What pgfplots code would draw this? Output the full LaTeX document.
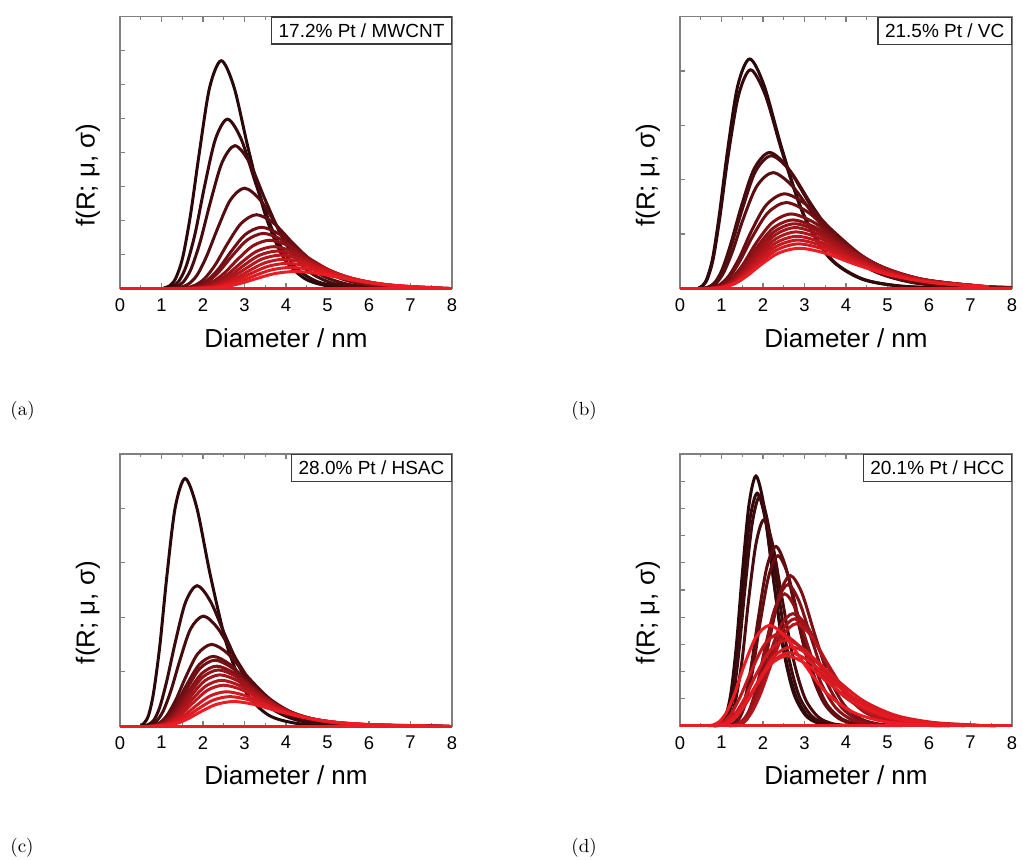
\documentclass[border=0pt]{standalone}
\usepackage{pgfplots}
\pgfplotsset{compat=1.18}
\usepackage{fontspec}
\setsansfont{Liberation Sans}

\definecolor{dk}{RGB}{42,8,10}
\definecolor{rd}{RGB}{236,28,36}
\definecolor{framegray}{RGB}{128,128,128}
\definecolor{boxgray}{RGB}{60,60,60}

\pgfplotsset{
  panel/.style={
    scale only axis, width=166pt, height=136pt,
    anchor=south west, clip=false,
    xmin=0, xmax=8, ymin=0,
    xtick distance=1, minor x tick num=1,
    ytick distance=1, yticklabels={},
    xtick pos=both, ytick pos=left,
    tick align=inside,
    major tick length=2.6pt, minor tick length=1.6pt,
    axis line style={draw=framegray, line width=0.6pt},
    tick style={framegray, line width=0.6pt},
    /pgf/number format/assume math mode=true,
    ticklabel style={font=\sffamily\fontsize{9.2}{11}\selectfont},
    xticklabel style={yshift=-1.6pt},
    label style={font=\sffamily\fontsize{13}{15}\selectfont},
    xlabel={Diameter / nm},
    ylabel={f(R; μ, σ)},
    xlabel style={at={(axis description cs:0.5,-0.182)}, anchor=center},
    ylabel style={at={(axis description cs:-0.0964,0.417)}, anchor=center},
    every axis plot/.append style={line width=1.5pt, smooth},
  },
  cv/.style={draw=rd!#1!dk},
}
\tikzset{
  tag/.style={draw=boxgray, line width=0.6pt, fill=white, anchor=north east,
    inner xsep=3.5pt, inner ysep=3.2pt, text height=6.9pt, text depth=0.2pt,
    font=\sffamily\fontsize{9.5}{11}\selectfont},
  letter/.style={anchor=west, inner sep=0pt, font=\rmfamily\fontsize{9.5}{11}\selectfont},
}

\begin{document}
\begin{tikzpicture}
\useasboundingbox (0pt,0pt) rectangle (511.5pt,-430pt);

% (a) 17.2% Pt / MWCNT
\begin{axis}[panel, at={(60pt,-144.25pt)}, ymax=8]
\addplot[cv=0] coordinates {(1.05,0.015)(1.19,0.074)(1.34,0.294)(1.51,0.907)(1.70,2.175)(1.92,4.064)(2.16,5.913)(2.44,6.70)(2.75,5.913)(3.10,4.064)(3.50,2.175)(3.94,0.907)(4.45,0.294)(5.01,0.074)(5.65,0.015)};
\addplot[cv=7] coordinates {(1.12,0.011)(1.26,0.055)(1.42,0.219)(1.60,0.674)(1.81,1.617)(2.04,3.020)(2.30,4.395)(2.59,4.98)(2.92,4.395)(3.29,3.020)(3.71,1.617)(4.19,0.674)(4.72,0.219)(5.32,0.055)(6.00,0.011)};
\addplot[cv=14] coordinates {(1.20,0.009)(1.35,0.047)(1.52,0.184)(1.71,0.568)(1.93,1.364)(2.18,2.547)(2.46,3.707)(2.77,4.20)(3.12,3.707)(3.52,2.547)(3.97,1.364)(4.48,0.568)(5.05,0.184)(5.69,0.047)(6.42,0.009)};
\addplot[cv=21] coordinates {(1.30,0.006)(1.46,0.033)(1.65,0.130)(1.86,0.399)(2.09,0.958)(2.36,1.789)(2.66,2.603)(3.00,2.95)(3.38,2.603)(3.81,1.789)(4.30,0.958)(4.85,0.399)(5.47,0.130)(6.16,0.033)(6.95,0.006)};
\addplot[cv=29] coordinates {(1.42,0.005)(1.60,0.024)(1.81,0.095)(2.04,0.294)(2.30,0.705)(2.59,1.316)(2.92,1.915)(3.29,2.17)(3.71,1.915)(4.18,1.316)(4.72,0.705)(5.32,0.294)(6.00,0.095)(6.76,0.024)(7.62,0.005)};
\addplot[cv=36] coordinates {(1.47,0.004)(1.66,0.020)(1.87,0.079)(2.11,0.244)(2.38,0.584)(2.68,1.092)(3.02,1.589)(3.41,1.80)(3.85,1.589)(4.34,1.092)(4.89,0.584)(5.51,0.244)(6.21,0.079)(7.01,0.020)(7.90,0.004)};
\addplot[cv=43] coordinates {(1.49,0.004)(1.68,0.018)(1.90,0.071)(2.14,0.219)(2.41,0.526)(2.72,0.983)(3.07,1.430)(3.46,1.62)(3.90,1.430)(4.40,0.983)(4.96,0.526)(5.59,0.219)(6.30,0.071)(7.11,0.018)};
\addplot[cv=50] coordinates {(1.56,0.003)(1.76,0.016)(1.98,0.062)(2.23,0.192)(2.52,0.461)(2.84,0.861)(3.20,1.253)(3.61,1.42)(4.07,1.253)(4.59,0.861)(5.17,0.461)(5.83,0.192)(6.58,0.062)(7.42,0.016)};
\addplot[cv=57] coordinates {(1.60,0.003)(1.80,0.014)(2.03,0.054)(2.29,0.166)(2.58,0.399)(2.91,0.746)(3.28,1.085)(3.70,1.23)(4.17,1.085)(4.70,0.746)(5.30,0.399)(5.98,0.166)(6.74,0.054)(7.60,0.014)};
\addplot[cv=64] coordinates {(1.63,0.002)(1.84,0.012)(2.07,0.048)(2.34,0.149)(2.64,0.357)(2.97,0.667)(3.35,0.971)(3.78,1.10)(4.26,0.971)(4.81,0.667)(5.42,0.357)(6.11,0.149)(6.89,0.048)(7.77,0.012)};
\addplot[cv=71] coordinates {(1.67,0.002)(1.88,0.011)(2.12,0.043)(2.39,0.133)(2.69,0.318)(3.04,0.594)(3.42,0.865)(3.86,0.98)(4.35,0.865)(4.91,0.594)(5.53,0.318)(6.24,0.133)(7.03,0.043)(7.93,0.011)};
\addplot[cv=79] coordinates {(1.71,0.002)(1.92,0.010)(2.17,0.038)(2.44,0.116)(2.76,0.279)(3.11,0.522)(3.50,0.759)(3.95,0.86)(4.45,0.759)(5.02,0.522)(5.66,0.279)(6.38,0.116)(7.20,0.038)};
\addplot[cv=86] coordinates {(1.74,0.002)(1.96,0.008)(2.21,0.032)(2.49,0.100)(2.81,0.240)(3.17,0.449)(3.57,0.653)(4.03,0.74)(4.54,0.653)(5.12,0.449)(5.78,0.240)(6.51,0.100)(7.34,0.032)};
\addplot[cv=93] coordinates {(1.78,0.001)(2.01,0.007)(2.26,0.027)(2.55,0.084)(2.88,0.201)(3.24,0.376)(3.65,0.547)(4.12,0.62)(4.65,0.547)(5.24,0.376)(5.91,0.201)(6.66,0.084)(7.51,0.027)};
\addplot[cv=100] coordinates {(1.82,0.001)(2.05,0.006)(2.32,0.022)(2.61,0.068)(2.94,0.162)(3.32,0.303)(3.74,0.441)(4.22,0.50)(4.76,0.441)(5.36,0.303)(6.05,0.162)(6.82,0.068)(7.69,0.022)};
\addplot[cv=100, sharp plot] coordinates {(0,0)(8,0)};
\node[tag] at (rel axis cs:1,1) {17.2\% Pt / MWCNT};
\end{axis}

% (b) 21.5% Pt / VC
\begin{axis}[panel, at={(340pt,-144.25pt)}, ymax=5]
\addplot[cv=0] coordinates {(0.44,0.009)(0.54,0.047)(0.65,0.185)(0.79,0.571)(0.95,1.370)(1.15,2.559)(1.39,3.724)(1.68,4.22)(2.03,3.724)(2.46,2.559)(2.97,1.370)(3.59,0.571)(4.34,0.185)(5.25,0.047)(6.35,0.009)};
\addplot[cv=5] coordinates {(0.45,0.009)(0.54,0.045)(0.66,0.176)(0.80,0.544)(0.96,1.305)(1.16,2.438)(1.41,3.548)(1.70,4.02)(2.06,3.548)(2.49,2.438)(3.01,1.305)(3.64,0.544)(4.40,0.176)(5.32,0.045)(6.43,0.009)};
\addplot[cv=12] coordinates {(0.57,0.006)(0.69,0.028)(0.84,0.110)(1.01,0.338)(1.22,0.812)(1.48,1.516)(1.79,2.206)(2.16,2.50)(2.61,2.206)(3.16,1.516)(3.82,0.812)(4.62,0.338)(5.59,0.110)(6.75,0.028)};
\addplot[cv=18] coordinates {(0.58,0.005)(0.70,0.027)(0.85,0.107)(1.03,0.330)(1.24,0.792)(1.51,1.480)(1.82,2.153)(2.20,2.44)(2.66,2.153)(3.22,1.480)(3.89,0.792)(4.70,0.330)(5.69,0.107)(6.88,0.027)};
\addplot[cv=24] coordinates {(0.59,0.005)(0.72,0.024)(0.87,0.094)(1.05,0.288)(1.27,0.692)(1.53,1.292)(1.85,1.880)(2.24,2.13)(2.71,1.880)(3.28,1.292)(3.96,0.692)(4.79,0.288)(5.79,0.094)(7.00,0.024)};
\addplot[cv=31] coordinates {(0.67,0.004)(0.81,0.019)(0.97,0.076)(1.18,0.235)(1.43,0.565)(1.72,1.055)(2.08,1.536)(2.52,1.74)(3.05,1.536)(3.69,1.055)(4.46,0.565)(5.39,0.235)(6.52,0.076)(7.88,0.019)};
\addplot[cv=37] coordinates {(0.68,0.003)(0.82,0.018)(0.99,0.069)(1.20,0.214)(1.45,0.513)(1.75,0.958)(2.12,1.394)(2.56,1.58)(3.10,1.394)(3.74,0.958)(4.53,0.513)(5.47,0.214)(6.62,0.069)(8.00,0.018)};
\addplot[cv=43] coordinates {(0.71,0.003)(0.86,0.015)(1.04,0.060)(1.25,0.185)(1.52,0.445)(1.83,0.831)(2.22,1.209)(2.68,1.37)(3.24,1.209)(3.92,0.831)(4.74,0.445)(5.73,0.185)(6.93,0.060)};
\addplot[cv=49] coordinates {(0.72,0.003)(0.87,0.014)(1.05,0.055)(1.27,0.170)(1.54,0.409)(1.86,0.764)(2.25,1.112)(2.72,1.26)(3.29,1.112)(3.98,0.764)(4.81,0.409)(5.82,0.170)(7.03,0.055)};
\addplot[cv=55] coordinates {(0.73,0.003)(0.88,0.013)(1.07,0.052)(1.29,0.161)(1.56,0.386)(1.89,0.722)(2.28,1.050)(2.76,1.19)(3.34,1.050)(4.04,0.722)(4.88,0.386)(5.90,0.161)(7.14,0.052)};
\addplot[cv=61] coordinates {(0.74,0.002)(0.89,0.012)(1.08,0.049)(1.30,0.152)(1.57,0.364)(1.90,0.679)(2.30,0.988)(2.78,1.12)(3.36,0.988)(4.07,0.679)(4.92,0.364)(5.94,0.152)(7.19,0.049)};
\addplot[cv=67] coordinates {(0.74,0.002)(0.90,0.012)(1.08,0.046)(1.31,0.141)(1.58,0.338)(1.92,0.631)(2.32,0.918)(2.80,1.04)(3.39,0.918)(4.09,0.631)(4.95,0.338)(5.99,0.141)(7.24,0.046)};
\addplot[cv=73] coordinates {(0.75,0.002)(0.90,0.011)(1.09,0.042)(1.32,0.130)(1.60,0.312)(1.93,0.582)(2.33,0.847)(2.82,0.96)(3.41,0.847)(4.12,0.582)(4.99,0.312)(6.03,0.130)(7.29,0.042)};
\addplot[cv=80] coordinates {(0.75,0.002)(0.91,0.010)(1.10,0.039)(1.33,0.120)(1.61,0.289)(1.94,0.540)(2.35,0.785)(2.84,0.89)(3.43,0.785)(4.15,0.540)(5.02,0.289)(6.07,0.120)(7.34,0.039)};
\addplot[cv=87] coordinates {(0.76,0.002)(0.92,0.009)(1.11,0.036)(1.34,0.111)(1.62,0.266)(1.96,0.497)(2.37,0.724)(2.86,0.82)(3.46,0.724)(4.18,0.497)(5.06,0.266)(6.12,0.111)(7.40,0.036)};
\addplot[cv=100] coordinates {(0.76,0.002)(0.92,0.008)(1.11,0.032)(1.35,0.100)(1.63,0.240)(1.97,0.449)(2.38,0.653)(2.88,0.74)(3.48,0.653)(4.21,0.449)(5.09,0.240)(6.16,0.100)(7.45,0.032)};
\addplot[cv=100, sharp plot] coordinates {(0,0)(8,0)};
\node[tag] at (rel axis cs:1,1) {21.5\% Pt / VC};
\end{axis}

% (c) 28.0% Pt / HSAC
\begin{axis}[panel, at={(60pt,-363pt)}, ymax=5]
\addplot[cv=0] coordinates {(0.50,0.010)(0.58,0.051)(0.69,0.200)(0.81,0.616)(0.96,1.477)(1.13,2.760)(1.33,4.015)(1.57,4.55)(1.85,4.015)(2.18,2.760)(2.58,1.477)(3.04,0.616)(3.58,0.200)(4.23,0.051)(4.98,0.010)};
\addplot[cv=8] coordinates {(0.59,0.006)(0.69,0.029)(0.82,0.113)(0.96,0.349)(1.13,0.838)(1.34,1.565)(1.58,2.277)(1.86,2.58)(2.19,2.277)(2.59,1.565)(3.05,0.838)(3.60,0.349)(4.24,0.113)(5.01,0.029)(5.90,0.006)};
\addplot[cv=15] coordinates {(0.63,0.004)(0.75,0.022)(0.88,0.089)(1.04,0.273)(1.23,0.656)(1.45,1.225)(1.70,1.783)(2.01,2.02)(2.37,1.783)(2.80,1.225)(3.30,0.656)(3.89,0.273)(4.59,0.089)(5.41,0.022)(6.38,0.004)};
\addplot[cv=23] coordinates {(0.70,0.003)(0.82,0.017)(0.97,0.066)(1.14,0.203)(1.35,0.487)(1.59,0.910)(1.87,1.324)(2.21,1.50)(2.61,1.324)(3.07,0.910)(3.63,0.487)(4.28,0.203)(5.04,0.066)(5.95,0.017)(7.01,0.003)};
\addplot[cv=31] coordinates {(0.71,0.003)(0.84,0.014)(0.99,0.056)(1.16,0.173)(1.37,0.416)(1.62,0.776)(1.91,1.130)(2.25,1.28)(2.65,1.130)(3.13,0.776)(3.69,0.416)(4.35,0.173)(5.13,0.056)(6.06,0.014)(7.14,0.003)};
\addplot[cv=38] coordinates {(0.72,0.003)(0.85,0.013)(1.00,0.053)(1.18,0.164)(1.40,0.393)(1.65,0.734)(1.94,1.068)(2.29,1.21)(2.70,1.068)(3.19,0.734)(3.76,0.393)(4.43,0.164)(5.23,0.053)(6.16,0.013)(7.27,0.003)};
\addplot[cv=46] coordinates {(0.73,0.002)(0.87,0.012)(1.02,0.048)(1.20,0.149)(1.42,0.357)(1.68,0.667)(1.98,0.971)(2.33,1.10)(2.75,0.971)(3.24,0.667)(3.82,0.357)(4.51,0.149)(5.32,0.048)(6.27,0.012)(7.40,0.002)};
\addplot[cv=54] coordinates {(0.75,0.002)(0.88,0.011)(1.04,0.045)(1.23,0.139)(1.44,0.334)(1.70,0.625)(2.01,0.909)(2.37,1.03)(2.80,0.909)(3.30,0.625)(3.89,0.334)(4.59,0.139)(5.41,0.045)(6.38,0.011)(7.52,0.002)};
\addplot[cv=62] coordinates {(0.76,0.002)(0.90,0.010)(1.06,0.041)(1.25,0.127)(1.47,0.305)(1.73,0.570)(2.04,0.830)(2.41,0.94)(2.84,0.830)(3.35,0.570)(3.95,0.305)(4.66,0.127)(5.50,0.041)(6.49,0.010)(7.65,0.002)};
\addplot[cv=69] coordinates {(0.77,0.002)(0.91,0.009)(1.07,0.037)(1.27,0.114)(1.49,0.273)(1.76,0.509)(2.08,0.741)(2.45,0.84)(2.89,0.741)(3.41,0.509)(4.02,0.273)(4.74,0.114)(5.59,0.037)(6.59,0.009)(7.78,0.002)};
\addplot[cv=77] coordinates {(0.79,0.002)(0.93,0.008)(1.10,0.033)(1.29,0.101)(1.52,0.244)(1.80,0.455)(2.12,0.662)(2.50,0.75)(2.95,0.662)(3.48,0.455)(4.10,0.244)(4.84,0.101)(5.71,0.033)(6.73,0.008)(7.94,0.002)};
\addplot[cv=85] coordinates {(0.81,0.001)(0.96,0.007)(1.13,0.028)(1.33,0.085)(1.57,0.205)(1.85,0.382)(2.18,0.556)(2.57,0.63)(3.03,0.556)(3.58,0.382)(4.22,0.205)(4.97,0.085)(5.86,0.028)(6.92,0.007)};
\addplot[cv=92] coordinates {(0.84,0.001)(0.99,0.006)(1.16,0.024)(1.37,0.073)(1.62,0.175)(1.91,0.328)(2.25,0.477)(2.65,0.54)(3.13,0.477)(3.69,0.328)(4.35,0.175)(5.13,0.073)(6.05,0.024)(7.13,0.006)};
\addplot[cv=100] coordinates {(0.86,0.001)(1.02,0.005)(1.20,0.020)(1.42,0.061)(1.67,0.146)(1.97,0.273)(2.32,0.397)(2.74,0.45)(3.23,0.397)(3.81,0.273)(4.50,0.146)(5.30,0.061)(6.25,0.020)(7.37,0.005)};
\addplot[cv=100, sharp plot] coordinates {(0,0)(8,0)};
\node[tag] at (rel axis cs:1,1) {28.0\% Pt / HSAC};
\end{axis}

% (d) 20.1% Pt / HCC
\begin{axis}[panel, at={(340pt,-363pt)}, ymax=10]
\addplot[cv=0] coordinates {(0.91,0.020)(1.00,0.102)(1.11,0.403)(1.23,1.243)(1.36,2.984)(1.50,5.574)(1.66,8.110)(1.83,9.19)(2.02,8.110)(2.24,5.574)(2.47,2.984)(2.73,1.243)(3.02,0.403)(3.33,0.102)(3.69,0.020)};
\addplot[cv=5] coordinates {(0.92,0.019)(1.02,0.095)(1.13,0.376)(1.25,1.158)(1.38,2.779)(1.52,5.192)(1.68,7.554)(1.86,8.56)(2.06,7.554)(2.27,5.192)(2.51,2.779)(2.78,1.158)(3.07,0.376)(3.39,0.095)(3.75,0.019)};
\addplot[cv=10] coordinates {(0.95,0.019)(1.05,0.094)(1.16,0.371)(1.29,1.142)(1.42,2.740)(1.57,5.119)(1.74,7.448)(1.92,8.44)(2.12,7.448)(2.35,5.119)(2.59,2.740)(2.86,1.142)(3.17,0.371)(3.50,0.094)(3.87,0.019)};
\addplot[cv=15] coordinates {(1.00,0.017)(1.11,0.084)(1.23,0.333)(1.35,1.026)(1.50,2.461)(1.65,4.597)(1.83,6.689)(2.02,7.58)(2.23,6.689)(2.47,4.597)(2.73,2.461)(3.01,1.026)(3.33,0.333)(3.68,0.084)(4.07,0.017)};
\addplot[cv=25] coordinates {(1.15,0.015)(1.27,0.073)(1.40,0.290)(1.55,0.893)(1.71,2.143)(1.89,4.003)(2.09,5.825)(2.31,6.60)(2.55,5.825)(2.82,4.003)(3.12,2.143)(3.45,0.893)(3.81,0.290)(4.21,0.073)(4.65,0.015)};
\addplot[cv=30] coordinates {(1.17,0.014)(1.30,0.069)(1.43,0.275)(1.58,0.847)(1.75,2.033)(1.93,3.797)(2.14,5.524)(2.36,6.26)(2.61,5.524)(2.88,3.797)(3.19,2.033)(3.52,0.847)(3.89,0.275)(4.30,0.069)(4.75,0.014)};
\addplot[cv=40] coordinates {(1.32,0.012)(1.46,0.061)(1.61,0.243)(1.78,0.748)(1.97,1.796)(2.18,3.354)(2.41,4.880)(2.66,5.53)(2.94,4.880)(3.25,3.354)(3.59,1.796)(3.97,0.748)(4.39,0.243)(4.85,0.061)(5.36,0.012)};
\addplot[cv=45] coordinates {(1.29,0.011)(1.43,0.058)(1.58,0.228)(1.74,0.704)(1.93,1.688)(2.13,3.154)(2.35,4.589)(2.60,5.20)(2.87,4.589)(3.18,3.154)(3.51,1.688)(3.88,0.704)(4.29,0.228)(4.74,0.058)(5.24,0.011)};
\addplot[cv=50] coordinates {(1.25,0.011)(1.38,0.054)(1.53,0.213)(1.69,0.658)(1.87,1.578)(2.06,2.948)(2.28,4.289)(2.52,4.86)(2.79,4.289)(3.08,2.948)(3.40,1.578)(3.76,0.658)(4.16,0.213)(4.59,0.054)(5.08,0.011)};
\addplot[cv=56] coordinates {(1.17,0.009)(1.32,0.046)(1.49,0.181)(1.68,0.559)(1.90,1.341)(2.14,2.505)(2.41,3.645)(2.72,4.13)(3.07,3.645)(3.46,2.505)(3.90,1.341)(4.40,0.559)(4.96,0.181)(5.59,0.046)(6.30,0.009)};
\addplot[cv=62] coordinates {(1.19,0.009)(1.34,0.044)(1.52,0.173)(1.71,0.533)(1.93,1.279)(2.17,2.390)(2.45,3.477)(2.76,3.94)(3.11,3.477)(3.51,2.390)(3.96,1.279)(4.46,0.533)(5.03,0.173)(5.67,0.044)(6.39,0.009)};
\addplot[cv=70] coordinates {(1.21,0.008)(1.36,0.042)(1.54,0.165)(1.73,0.509)(1.95,1.221)(2.20,2.280)(2.48,3.318)(2.80,3.76)(3.16,3.318)(3.56,2.280)(4.01,1.221)(4.53,0.509)(5.10,0.165)(5.75,0.042)(6.49,0.008)};
\addplot[cv=78] coordinates {(0.76,0.007)(0.89,0.038)(1.05,0.149)(1.24,0.460)(1.46,1.104)(1.73,2.062)(2.04,3.001)(2.40,3.40)(2.83,3.001)(3.34,2.062)(3.94,1.104)(4.64,0.460)(5.48,0.149)(6.46,0.038)(7.62,0.007)};
\addplot[cv=83] coordinates {(0.81,0.007)(0.95,0.035)(1.12,0.138)(1.32,0.426)(1.56,1.023)(1.84,1.910)(2.17,2.780)(2.56,3.15)(3.02,2.780)(3.56,1.910)(4.20,1.023)(4.95,0.426)(5.84,0.138)(6.89,0.035)};
\addplot[cv=88] coordinates {(0.84,0.006)(1.00,0.032)(1.17,0.128)(1.39,0.394)(1.63,0.945)(1.93,1.765)(2.27,2.568)(2.68,2.91)(3.16,2.568)(3.73,1.765)(4.40,0.945)(5.19,0.394)(6.12,0.128)(7.21,0.032)};
\addplot[cv=92] coordinates {(0.83,0.006)(0.98,0.030)(1.16,0.119)(1.37,0.365)(1.61,0.877)(1.90,1.638)(2.24,2.383)(2.64,2.70)(3.11,2.383)(3.67,1.638)(4.33,0.877)(5.11,0.365)(6.02,0.119)(7.11,0.030)};
\addplot[cv=96] coordinates {(0.81,0.006)(0.96,0.029)(1.13,0.113)(1.33,0.349)(1.57,0.838)(1.86,1.565)(2.19,2.277)(2.58,2.58)(3.04,2.277)(3.59,1.565)(4.23,0.838)(4.99,0.349)(5.89,0.113)(6.94,0.029)};
\addplot[cv=100] coordinates {(0.68,0.008)(0.80,0.041)(0.95,0.162)(1.12,0.501)(1.32,1.201)(1.55,2.244)(1.83,3.265)(2.16,3.70)(2.55,3.265)(3.01,2.244)(3.54,1.201)(4.18,0.501)(4.93,0.162)(5.81,0.041)(6.86,0.008)};
\addplot[cv=100, sharp plot] coordinates {(0,0)(8,0)};
\node[tag] at (rel axis cs:1,1) {20.1\% Pt / HCC};
\end{axis}

\node[letter] at (5pt,-205.25pt) {(a)};
\node[letter] at (285.5pt,-205.25pt) {(b)};
\node[letter] at (5pt,-424pt) {(c)};
\node[letter] at (285.5pt,-424pt) {(d)};
\end{tikzpicture}
\end{document}
